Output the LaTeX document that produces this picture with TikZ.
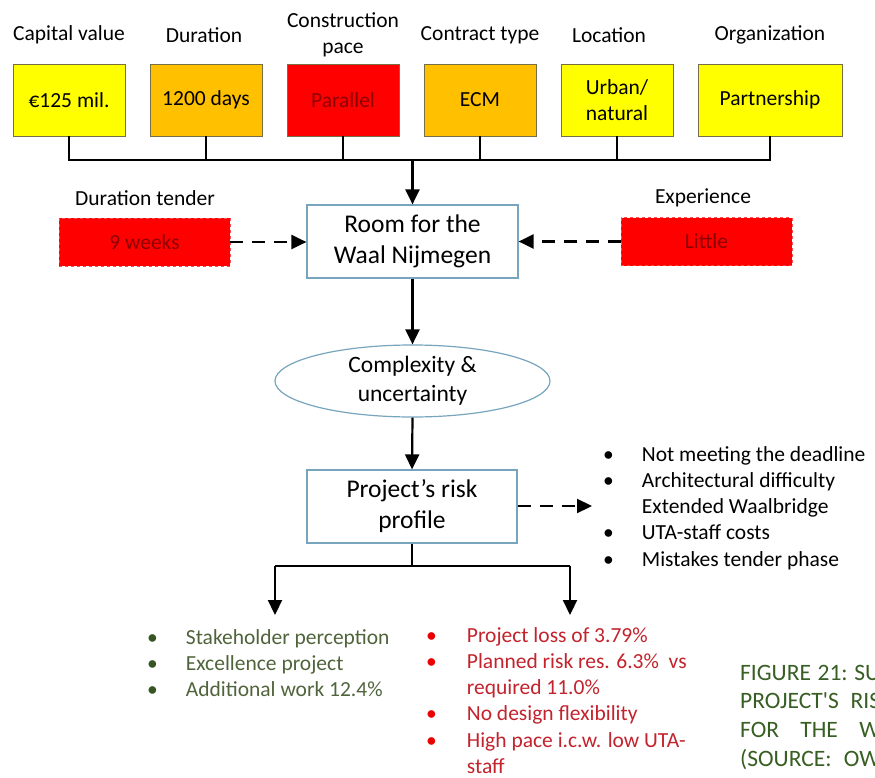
\documentclass[tikz,border=0pt]{standalone}
\usepackage{fontspec}
\setmainfont{Carlito}
\usetikzlibrary{arrows.meta,shapes.geometric}
\definecolor{cyel}{RGB}{255,255,0}
\definecolor{corange}{RGB}{255,192,0}
\definecolor{cred}{RGB}{255,0,0}
\definecolor{cdarkred}{RGB}{140,0,0}
\definecolor{cblue}{RGB}{120,165,190}
\definecolor{cgreentext}{RGB}{80,100,60}
\definecolor{cgreenbul}{RGB}{55,85,35}
\definecolor{credtext}{RGB}{195,35,45}
\definecolor{credbul}{RGB}{235,0,0}
\definecolor{ccaption}{RGB}{56,95,35}
\definecolor{cboxline}{RGB}{120,110,70}
\tikzset{
  txt/.style={font=\fontsize{21.5}{26}\selectfont, inner sep=0pt, align=center},
  topbox/.style={draw=cboxline, line width=0.8pt, minimum width=112pt, minimum height=72pt, inner sep=0pt, align=center, font=\fontsize{21.5}{26}\selectfont},
  dashbox/.style={draw=red!70!white, dashed, line width=0.6pt, fill=cred, minimum width=171pt, minimum height=48pt, inner sep=0pt, font=\fontsize{21.5}{26}\selectfont, text=cdarkred},
  bluebox/.style={draw=cblue, line width=1.2pt, fill=white, inner sep=0pt, align=center},
  conn/.style={line width=2.2pt, black},
  arr/.style={conn, -{Triangle[length=15pt,width=14pt]}},
  darr/.style={arr, dash pattern=on 13pt off 9pt},
  listfont/.style={font=\fontsize{21.5}{26.3}\selectfont, inner sep=0pt, anchor=base west}
}
\begin{document}
\begin{tikzpicture}[x=1pt,y=-1pt]
\useasboundingbox (0,0) rectangle (875,778);
\fill[white] (0,0) rectangle (875,778);
% top labels
\node[txt] (l1) at (69,35) {Capital value};
\node[txt] (l2) at (204,35) {Duration};
\node[txt] (l3) at (343,35) {Construction\\pace};
\node[txt] (l4) at (480,35) {Contract type};
\node[txt] (l5) at (609,35) {Location};
\node[txt] (l6) at (770,35) {Organization};
% top boxes
\node[topbox, fill=cyel] (b1) at (69,100) {€125 mil.};
\node[topbox, fill=corange] (b2) at (206,100) {1200 days};
\node[topbox, fill=cred, text=cdarkred] (b3) at (343,100) {Parallel};
\node[topbox, fill=corange] (b4) at (480,100) {ECM};
\node[topbox, fill=cyel] (b5) at (617,100) {Urban/\\natural};
\node[topbox, fill=cyel, minimum width=144pt] (b6) at (770,100) {Partnership};
% central nodes
\node[bluebox, minimum width=211pt, minimum height=73pt, font=\fontsize{25.5}{31}\selectfont] (room) at (412.5,241.5) {Room for the\\Waal Nijmegen};
\node[bluebox, ellipse, minimum width=275pt, minimum height=72pt, font=\fontsize{23.5}{29}\selectfont] (cx) at (412.5,381) {Complexity \&\\uncertainty};
\node[bluebox, minimum width=210pt, minimum height=73pt, font=\fontsize{25.5}{31}\selectfont] (risk) at (412,506.5) {Project’s risk\\profile};
% side nodes
\node[txt] (ldt) at (145,198) {Duration tender};
\node[dashbox] (dt) at (144.5,242) {9 weeks};
\node[txt] (lex) at (703,198) {Experience};
\node[dashbox] (ex) at (706.5,241.5) {Little};
% bus
\coordinate (busy) at (0,160);
\draw[conn] (b1.south) -- (b1.south |- busy) -- (b6.south |- busy) -- (b6.south);
\foreach \b in {b2,b3,b4,b5} \draw[conn] (\b.south) -- (\b.south |- busy);
\draw[arr] (room.north |- busy) -- (room.north);
\draw[darr] (dt.east) -- (dt.east -| room.west);
\draw[darr] (ex.west) -- (ex.west -| room.east);
\draw[arr] (room.south) -- (cx.north);
\draw[arr] (cx.south) -- (risk.north);
% right risk list
\coordinate (rend) at (592,506);
\draw[darr] (risk.east |- rend) -- (rend);
\node[listfont] (rl) at (603,461) {\begin{tabular}[t]{@{}l@{\hspace{28pt}}l@{}}
•&Not meeting the deadline\\
•&Architectural difficulty\\
&Extended Waalbridge\\
•&UTA-staff costs\\
•&Mistakes tender phase
\end{tabular}};
% split
\coordinate (split) at (412,566);
\coordinate (ta) at (275,615);
\coordinate (tb) at (570,615);
\draw[conn] (risk.south) -- (split);
\draw[conn] (ta |- split) -- (tb |- split);
\draw[arr] (ta |- split) -- (ta);
\draw[arr] (tb |- split) -- (tb);
% green list
\node[listfont, text=cgreentext] (gl) at (147,644) {\begin{tabular}[t]{@{}l@{\hspace{28pt}}l@{}}
\textcolor{cgreenbul}{•}&Stakeholder perception\\
\textcolor{cgreenbul}{•}&Excellence project\\
\textcolor{cgreenbul}{•}&Additional work 12.4\%
\end{tabular}};
% red list
\node[listfont, text=credtext] (rdl) at (426,642) {\begin{tabular}[t]{@{}l@{\hspace{30pt}}l@{}}
\textcolor{credbul}{•}&Project loss of 3.79\%\\
\textcolor{credbul}{•}&Planned risk res. 6.3\%\ \ vs\\
&required 11.0\%\\
\textcolor{credbul}{•}&No design flexibility\\
\textcolor{credbul}{•}&High pace i.c.w. low UTA-\\
&staff
\end{tabular}};
% caption (justified, cut off at the right edge as in the reference)
\begin{scope}
\clip (0,0) rectangle (875,778);
\node[listfont, text=ccaption, font=\fontsize{23.5}{28.7}\selectfont] (cap) at (740,680) {\begin{tabular}[t]{@{}l@{}}
\makebox[140pt][s]{FIGURE\hfill 21:\hfill SU}\\
\makebox[140pt][s]{PROJECT\textquotesingle S\hfill RIS}\\
\makebox[140pt][s]{FOR\hfill THE\hfill W}\\
\makebox[140pt][s]{(SOURCE:\hfill OW}
\end{tabular}};
\end{scope}
\end{tikzpicture}
\end{document}
